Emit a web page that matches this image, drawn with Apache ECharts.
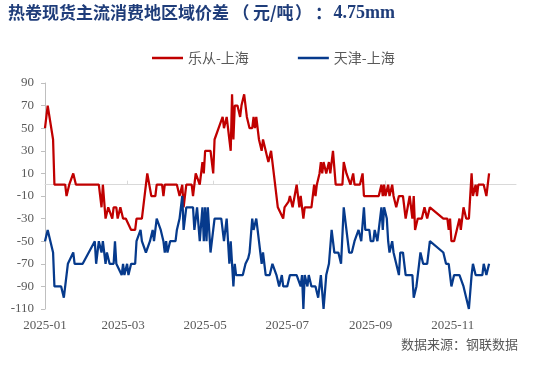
<!DOCTYPE html>
<html>
<head>
<meta charset="utf-8">
<script src="https://cdn.jsdelivr.net/npm/echarts@6/dist/echarts.min.js"></script>
<style>
html,body{margin:0;padding:0;background:#fff;}
#chart{width:550px;height:366px;}
</style>
</head>
<body>
<div id="chart"></div>
<script>
// ---- data ----
var titleMain = '热卷现货主流消费地区域价差';
var titleUnit = '元/吨';
var titleSpec = '4.75mm';
var sourceText = '数据来源：钢联数据';
var seriesNames = ['乐从-上海', '天津-上海'];
var axisStart = '2025-01-02';
var axisEnd = '2025-12-18';
var yTicks = [-110, -90, -70, -50, -30, -10, 10, 30, 50, 70, 90];

var redDates = ['01-02','01-04','01-08','01-09','01-17','01-18','01-20','01-23','01-24','01-25',
'02-11','02-13','02-14','02-16','02-18','02-21','02-22','02-24','02-25','02-27',
'03-01','03-03','03-05','03-07','03-10','03-11','03-15','03-19','03-22','03-25','03-26','03-30','03-31',
'04-01','04-10','04-12','04-14','04-15','04-17','04-21','04-22','04-24','04-27','04-29','04-30',
'05-01','05-05','05-07','05-08','05-11','05-14','05-15','05-17','05-18','05-19','05-20','05-21','05-22','05-23','05-25','05-27','05-28','05-30',
'06-01','06-03','06-05','06-06','06-07','06-08','06-10','06-12','06-13','06-15','06-16','06-17','06-19','06-20','06-22','06-24','06-28','06-29',
'07-02','07-03','07-05','07-08','07-10','07-11','07-13','07-14','07-19','07-21','07-22','07-23','07-25','07-26','07-27','07-28','07-30',
'08-01','08-02','08-04','08-06','08-11','08-12','08-14','08-17','08-19','08-20','08-24','08-26','08-27',
'09-07','09-09','09-10','09-11','09-12','09-14','09-15','09-17','09-18','09-20','09-22','09-25','09-27','09-30',
'10-02','10-03','10-04','10-06','10-09','10-11','10-13','10-15','10-25','10-28','10-29','10-30','10-31',
'11-02','11-04','11-06','11-07','11-09','11-11','11-13','11-15','11-16','11-18','11-19','11-20','11-24','11-26','11-28'];
var redValues = [50,70,40,0,0,-10,0,10,10,0,
0,-20,0,-30,-20,-30,-20,-20,-30,-20,
-30,-30,-35,-40,-40,-30,-30,10,-10,-10,0,0,-10,
0,0,-10,0,-20,0,0,-10,10,0,20,10,
30,30,10,40,50,60,50,60,50,40,30,80,40,70,70,60,70,80,
60,50,50,60,50,60,40,30,40,30,25,20,30,20,0,-20,-30,-20,
-15,-10,-20,0,-20,-10,-30,-20,-20,0,-10,0,10,20,10,20,10,
20,10,30,0,0,20,10,0,10,0,0,10,-10,
-10,0,-10,0,-10,0,-10,0,-10,-20,-10,-10,-30,-10,
-30,-10,-40,-30,-30,-20,-30,-20,-30,-30,-40,-30,-50,
-50,-40,-30,-40,-20,-30,-30,10,-10,0,-10,0,0,-10,10];

var blueDates = ['01-02','01-04','01-08','01-09','01-14','01-16','01-19','01-23','01-24','01-30',
'02-08','02-09','02-11','02-12','02-13','02-14','02-16','02-17','02-19','02-22','02-23','02-24','02-25','02-28',
'03-01','03-02','03-04','03-05','03-07','03-10','03-11','03-14','03-15','03-16','03-18','03-21','03-23','03-24','03-26','03-29','03-31',
'04-01','04-02','04-03','04-05','04-09','04-10','04-12','04-14','04-15','04-17','04-19','04-22','04-23','04-25','04-27','04-29','04-30',
'05-01','05-02','05-03','05-05','05-07','05-08','05-13','05-15','05-17','05-19','05-20','05-22','05-23','05-24','05-29','05-31',
'06-02','06-03','06-05','06-06','06-08','06-10','06-11','06-12','06-13','06-15','06-18','06-20','06-21','06-23','06-25','06-27','06-28',
'07-01','07-03','07-08','07-11','07-12','07-13','07-14','07-16','07-17','07-19','07-22','07-24','07-26','07-28','07-30',
'08-01','08-03','08-05','08-08','08-10','08-12','08-14','08-16','08-18','08-20','08-23','08-25','08-27','08-28','08-31',
'09-01','09-03','09-04','09-06','09-07','09-09','09-10','09-11','09-13','09-14','09-15','09-17','09-18','09-20','09-22','09-23','09-25','09-27',
'10-02','10-03','10-05','10-07','10-08','10-10','10-13','10-15','10-25','10-27','10-29','10-31',
'11-02','11-06','11-09','11-11','11-13','11-15','11-16','11-18','11-23','11-24','11-26','11-28'];
var blueValues = [-50,-40,-60,-90,-90,-100,-70,-60,-70,-70,
-50,-70,-50,-50,-60,-50,-70,-60,-70,-70,-50,-70,-70,-80,
-70,-80,-70,-80,-70,-70,-50,-40,-50,-50,-60,-50,-40,-50,-30,-40,-50,
-60,-50,-60,-50,-50,-40,-30,-10,-40,-20,-20,-20,-40,-20,-50,-20,-50,
-20,-50,-20,-60,-40,-30,-30,-50,-30,-70,-50,-90,-70,-80,-80,-70,
-65,-60,-30,-40,-30,-50,-60,-70,-60,-80,-80,-70,-70,-80,-90,-80,-90,
-90,-80,-80,-90,-80,-110,-80,-90,-80,-90,-90,-100,-80,-110,-80,
-70,-40,-60,-60,-70,-20,-40,-60,-60,-50,-40,-50,-20,-40,-40,
-50,-50,-40,-50,-50,-20,-40,-20,-30,-50,-60,-50,-60,-70,-80,-60,-60,-80,
-80,-100,-90,-70,-60,-70,-70,-50,-60,-70,-70,-90,
-80,-80,-90,-100,-110,-80,-70,-80,-80,-70,-80,-70];

// ---- build calendar categories ----
function fmt(d){
  var m = d.getUTCMonth()+1, day = d.getUTCDate();
  return d.getUTCFullYear() + '-' + (m<10?'0':'') + m + '-' + (day<10?'0':'') + day;
}
var categories = [];
(function(){
  var p = axisStart.split('-'), q = axisEnd.split('-');
  var d = new Date(Date.UTC(+p[0], +p[1]-1, +p[2]));
  var e = new Date(Date.UTC(+q[0], +q[1]-1, +q[2]));
  while (d <= e) { categories.push(fmt(d)); d = new Date(d.getTime() + 86400000); }
})();
function toSeries(dates, vals){
  var arr = categories.map(function(){ return null; });
  for (var i=0;i<dates.length;i++){
    var idx = categories.indexOf('2025-' + dates[i]);
    if (idx >= 0) arr[idx] = vals[i];
  }
  return arr;
}
var redData = toSeries(redDates, redValues);
var blueData = toSeries(blueDates, blueValues);

var serif = '"Liberation Serif","Times New Roman",serif';
var cjk = '"Noto Sans CJK SC","Liberation Sans",sans-serif';
var tColor = '#1F3D7A';
var tBase = {fontFamily: cjk, fontSize: 17, fontWeight: 'bold', color: tColor};

var chart = echarts.init(document.getElementById('chart'), null, {renderer:'canvas'});
chart.setOption({
  animation: false,
  backgroundColor: '#ffffff',
  title: [{
    text: '{a|' + titleMain + '}{p|（}{a|' + titleUnit + '}{q|）}{c|：}{b|' + titleSpec + '}',
    left: 8, top: 4, padding: 0,
    textStyle: {
      rich: {
        a: tBase,
        p: Object.assign({}, tBase, {width: 24, align: 'right'}),
        q: Object.assign({}, tBase, {width: 20, align: 'center'}),
        c: Object.assign({}, tBase, {width: 20, align: 'center'}),
        b: {fontFamily: serif, fontSize: 18, fontWeight: 'bold', color: tColor}
      }
    }
  },{
    text: sourceText, right: 32, top: 338, padding: 0,
    textStyle: {fontFamily: cjk, fontSize: 13, fontWeight: 'normal', color: '#595959'}
  }],
  legend: {
    data: seriesNames, left: 152, top: 51, padding: 0,
    icon: 'rect', itemWidth: 31, itemHeight: 2.5, itemGap: 49,
    textStyle: {fontFamily: cjk, fontSize: 14, color: '#595959'}
  },
  grid: {left: 45, right: 34, top: 83, bottom: 57, containLabel: false},
  xAxis: [{
    type: 'category', data: categories, boundaryGap: false,
    axisLine: {show: false, onZero: false},
    axisTick: {show: false},
    splitLine: {show: false},
    axisLabel: {
      margin: 10, fontFamily: serif, fontSize: 13, color: '#595959',
      interval: function(i, v){ return i === 0 || (v.slice(8) === '01' && (+v.slice(5,7)) % 2 === 1); },
      formatter: function(v){ return v.slice(0,7); }
    }
  },{
    type: 'category', data: categories, boundaryGap: false,
    axisLine: {show: true, onZero: true, lineStyle: {color: '#D9D9D9', width: 1}},
    axisTick: {show: true, length: 4, lineStyle: {color: '#D9D9D9'},
      interval: function(i){ return i % 64 === 61; }},
    axisLabel: {show: false},
    splitLine: {show: false}
  }],
  yAxis: {
    type: 'value', min: yTicks[0], max: yTicks[yTicks.length-1], interval: 20,
    axisLine: {show: true, lineStyle: {color: '#BFBFBF', width: 1}},
    axisTick: {show: true, inside: false, length: 4, lineStyle: {color: '#BFBFBF'}},
    splitLine: {show: false},
    axisLabel: {margin: 11, fontFamily: serif, fontSize: 13, color: '#595959'}
  },
  series: [{
    name: seriesNames[0], type: 'line', data: redData, xAxisIndex: 0,
    connectNulls: true, showSymbol: false, symbol: 'none',
    lineStyle: {color: '#C00000', width: 2.25}, itemStyle: {color: '#C00000'}
  },{
    name: seriesNames[1], type: 'line', data: blueData, xAxisIndex: 0,
    connectNulls: true, showSymbol: false, symbol: 'none',
    lineStyle: {color: '#063A8C', width: 2.25}, itemStyle: {color: '#063A8C'}
  }]
});
</script>
</body>
</html>
